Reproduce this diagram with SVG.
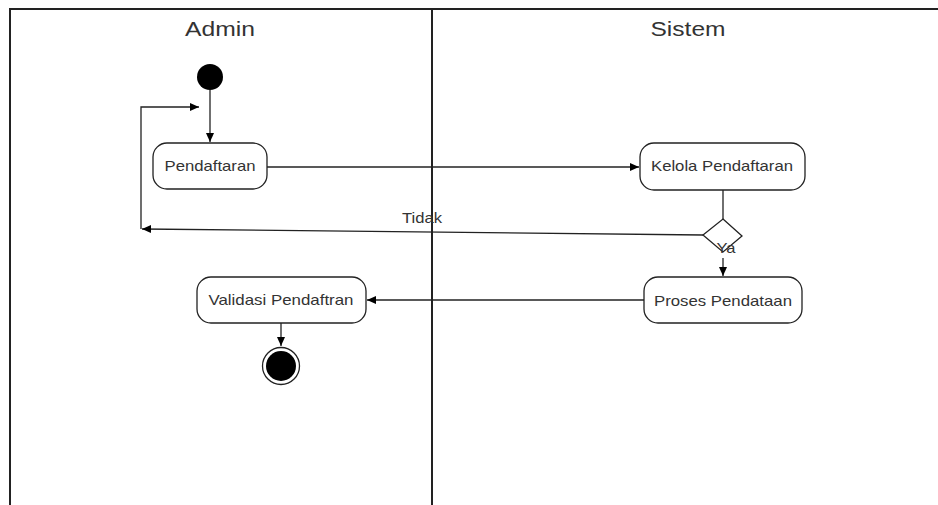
<svg xmlns="http://www.w3.org/2000/svg" width="938" height="505" viewBox="0 0 938 505">
<style>
.lane{stroke:#222;stroke-width:2;fill:none}
.box{fill:#fff;stroke:#222;stroke-width:1.3}
.t{font-family:"Liberation Sans",Arial,sans-serif;font-size:15px;fill:#333;text-anchor:middle}
.h{font-family:"Liberation Sans",Arial,sans-serif;font-size:20px;fill:#333;text-anchor:middle}
.c{stroke:#222;stroke-width:1.3;fill:none}
</style>
<defs>
<marker id="a" markerWidth="10" markerHeight="10" refX="9" refY="5" orient="auto" markerUnits="userSpaceOnUse">
<path d="M0,1 L9,5 L0,9 Z" fill="#000"/>
</marker>
</defs>
<rect width="938" height="505" fill="#fff"/>
<g id="lanes">
<path class="lane" d="M10,505 V9 H938"/>
<path class="lane" d="M432,9 V505"/>
<text class="h" x="220" y="36" textLength="70" lengthAdjust="spacingAndGlyphs">Admin</text>
<text class="h" x="688" y="36" textLength="75" lengthAdjust="spacingAndGlyphs">Sistem</text>
</g>
<g id="connectors">
<path class="c" d="M210,90 V142" marker-end="url(#a)"/>
<path class="c" d="M267,167 H639" marker-end="url(#a)"/>
<path class="c" d="M723,190 V219"/>
<path class="c" d="M703,235 L142,229" marker-end="url(#a)"/>
<path class="c" d="M141,229 V107 H199" marker-end="url(#a)"/>
<path class="c" d="M723,258 V276" marker-end="url(#a)"/>
<path class="c" d="M644,300 H367" marker-end="url(#a)"/>
<path class="c" d="M281,323 V346" marker-end="url(#a)"/>
</g>
<g id="start"><circle cx="210" cy="77" r="13" fill="#000"/></g>
<g id="pendaftaran">
<rect class="box" x="153" y="143" width="114" height="46" rx="14"/>
<text class="t" x="210" y="171" textLength="91" lengthAdjust="spacingAndGlyphs">Pendaftaran</text>
</g>
<g id="kelola">
<rect class="box" x="640" y="143" width="165" height="47" rx="14"/>
<text class="t" x="722" y="171" textLength="142" lengthAdjust="spacingAndGlyphs">Kelola Pendaftaran</text>
</g>
<g id="decision">
<path d="M723,219 L742,236 L723,252 L703,235 Z" fill="#fff" stroke="#222" stroke-width="1.3"/>
</g>
<g id="proses">
<rect class="box" x="644" y="277" width="158" height="46" rx="14"/>
<text class="t" x="723" y="306" textLength="138" lengthAdjust="spacingAndGlyphs">Proses Pendataan</text>
</g>
<g id="validasi">
<rect class="box" x="197" y="277" width="169" height="46" rx="14"/>
<text class="t" x="281" y="305" textLength="145" lengthAdjust="spacingAndGlyphs">Validasi Pendaftran</text>
</g>
<g id="end">
<circle cx="281" cy="366" r="18.5" fill="#fff" stroke="#222" stroke-width="1.3"/>
<circle cx="281" cy="366" r="15" fill="#000"/>
</g>
<g id="labels">
<text class="t" x="422" y="223" textLength="40" lengthAdjust="spacingAndGlyphs">Tidak</text>
<text class="t" x="726" y="253" textLength="19" lengthAdjust="spacingAndGlyphs">Ya</text>
</g>
</svg>
